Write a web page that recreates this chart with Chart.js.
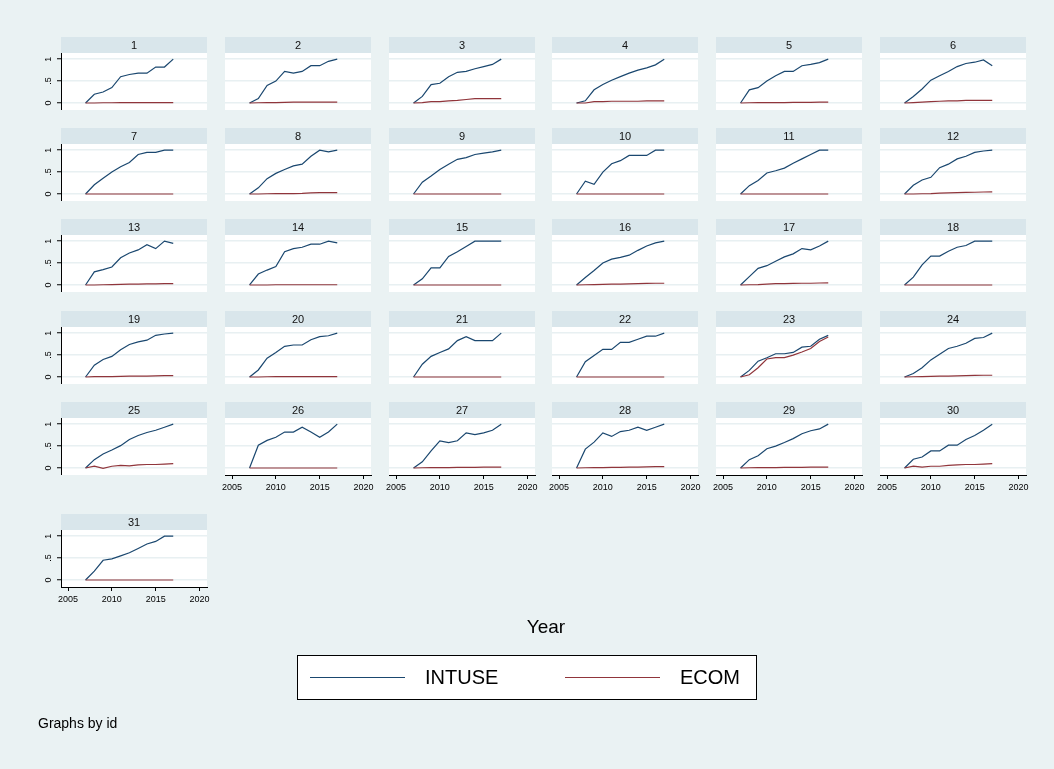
<!DOCTYPE html>
<html>
<head>
<meta charset="utf-8">
<script src="https://cdn.jsdelivr.net/npm/chart.js@4.4.1/dist/chart.umd.min.js"></script>
<style>
  html, body { margin: 0; padding: 0; background: #eaf2f3; }
  #stage { position: relative; width: 1054px; height: 769px; overflow: hidden; background: #eaf2f3; }
  #stage canvas { position: absolute; }
</style>
</head>
<body>
<div id="stage"></div>
<script>
// ---- data -------------------------------------------------------------
const YEARS = [2007, 2008, 2009, 2010, 2011, 2012, 2013, 2014, 2015, 2016, 2017];
const IDS = [1, 2, 3, 4, 5, 6, 7, 8, 9, 10, 11, 12, 13, 14, 15, 16, 17, 18, 19, 20,
             21, 22, 23, 24, 25, 26, 27, 28, 29, 30, 31];

// share of internet use, one row per id (2007..2017)
const INTUSE = [
  [0, .20, .25, .35, .60, .65, .68, .68, .82, .82, 1],
  [0, .10, .40, .50, .72, .68, .72, .85, .85, .95, 1],
  [0, .15, .42, .45, .60, .70, .72, .78, .83, .88, 1],
  [0, .05, .30, .42, .52, .60, .68, .75, .80, .87, 1],
  [0, .30, .35, .50, .62, .72, .72, .85, .88, .92, 1],
  [0, .15, .32, .52, .62, .72, .83, .90, .93, .98, .85],
  [0, .21, .36, .50, .62, .72, .90, .95, .95, 1, 1],
  [0, .14, .35, .47, .56, .64, .68, .86, 1, .96, 1],
  [0, .27, .41, .56, .68, .79, .83, .90, .93, .96, 1],
  [0, .29, .22, .50, .69, .76, .88, .88, .88, 1, 1],
  [0, .19, .31, .48, .53, .59, .70, .80, .90, 1, 1],
  [0, .20, .32, .38, .60, .68, .80, .86, .95, .98, 1],
  [0, .30, .35, .41, .62, .73, .80, .92, .83, 1, .95],
  [0, .25, .34, .42, .76, .83, .86, .93, .93, 1, .96],
  [0, .14, .39, .39, .65, .76, .88, 1, 1, 1, 1],
  [0, .17, .33, .50, .59, .63, .68, .79, .89, .96, 1],
  [0, .19, .38, .44, .54, .64, .71, .83, .80, .89, 1],
  [0, .18, .46, .66, .66, .77, .86, .90, 1, 1, 1],
  [0, .27, .40, .47, .62, .74, .80, .84, .95, .98, 1],
  [0, .16, .43, .56, .70, .73, .73, .85, .92, .94, 1],
  [0, .29, .47, .56, .64, .83, .92, .83, .83, .83, 1],
  [0, .35, .49, .63, .63, .79, .79, .86, .93, .93, 1],
  [0, .15, .36, .44, .53, .53, .56, .68, .70, .86, .95],
  [0, .08, .21, .39, .52, .65, .70, .77, .88, .90, 1],
  [0, .19, .32, .41, .51, .65, .74, .81, .86, .93, 1],
  [0, .52, .63, .70, .82, .82, .93, .82, .70, .82, 1],
  [0, .14, .39, .62, .58, .62, .80, .76, .80, .86, 1],
  [0, .43, .59, .80, .72, .83, .86, .93, .86, .93, 1],
  [0, .19, .28, .44, .50, .58, .67, .78, .85, .89, 1],
  [0, .20, .25, .39, .39, .52, .52, .65, .74, .86, 1],
  [0, .20, .45, .48, .55, .62, .72, .82, .88, 1, 1]
];

// share of e-commerce, one row per id (2007..2017)
const ECOM = [
  [0, 0, .005, .005, .01, .01, .01, .01, .01, .01, .01],
  [0, .005, .01, .01, .015, .02, .02, .02, .02, .02, .02],
  [0, .01, .03, .03, .05, .06, .08, .10, .10, .10, .10],
  [0, 0, .03, .03, .04, .04, .04, .04, .05, .05, .05],
  [0, .005, .01, .01, .01, .01, .015, .015, .015, .02, .02],
  [0, .01, .02, .03, .04, .05, .05, .06, .06, .06, .06],
  [0, 0, 0, 0, 0, 0, 0, 0, 0, 0, 0],
  [0, 0, .005, .01, .01, .01, .015, .025, .03, .03, .03],
  [0, 0, 0, 0, 0, 0, 0, 0, 0, 0, 0],
  [0, 0, 0, 0, 0, 0, 0, 0, 0, 0, 0],
  [0, 0, 0, 0, 0, 0, 0, 0, 0, 0, 0],
  [0, 0, .005, .01, .02, .025, .03, .035, .04, .045, .05],
  [0, 0, .005, .01, .015, .02, .02, .025, .025, .03, .03],
  [0, 0, 0, .005, .005, .005, .005, .005, .005, .005, .005],
  [0, 0, 0, 0, 0, 0, 0, 0, 0, 0, 0],
  [0, .005, .01, .015, .02, .02, .025, .03, .035, .04, .04],
  [0, .005, .01, .02, .03, .03, .035, .04, .04, .045, .05],
  [0, 0, 0, 0, 0, 0, 0, 0, 0, 0, 0],
  [0, .01, .01, .01, .015, .02, .02, .02, .025, .03, .03],
  [0, 0, .005, .01, .01, .01, .01, .01, .01, .01, .01],
  [0, 0, 0, 0, 0, 0, 0, 0, 0, 0, 0],
  [0, 0, 0, 0, 0, 0, 0, 0, 0, 0, 0],
  [0, .05, .21, .41, .44, .44, .50, .57, .65, .81, .91],
  [0, .005, .01, .015, .02, .02, .025, .03, .035, .04, .04],
  [0, .04, -.01, .04, .06, .05, .07, .08, .08, .09, .10],
  [0, 0, 0, 0, 0, 0, 0, 0, 0, 0, 0],
  [0, .005, .01, .01, .01, .015, .015, .015, .02, .02, .02],
  [0, .005, .01, .01, .015, .015, .02, .02, .025, .03, .03],
  [0, .005, .01, .01, .01, .015, .015, .015, .02, .02, .02],
  [0, .04, .02, .04, .04, .06, .07, .08, .08, .09, .10],
  [0, 0, 0, 0, 0, 0, 0, 0, 0, 0, 0]
];

const Y_TICKS = [0, 0.5, 1];
const X_TICKS = [2005, 2010, 2015, 2020];
const SERIES_NAMES = ['INTUSE', 'ECOM'];
const SERIES_COLORS = ['#1a476f', '#90353b'];
const X_TITLE = 'Year';
const NOTE = 'Graphs by id';

// ---- layout -----------------------------------------------------------
const NCOL = 6;
const COL_X = 60.7, COL_STEP = 163.9;
const ROW_TOP = [37, 128.2, 219.4, 310.6, 401.8, 514];
const PLOT_W = 146, STRIP_H = 16, PLOT_H = 57;
const YAXIS_W = 34, RIGHT_PAD = 14, XAXIS_H = 24;
const FONT = '"Liberation Sans", Arial, Helvetica, sans-serif';
const stage = document.getElementById('stage');

// white plot region plus the id strip above it
const panelDecor = {
  id: 'panelDecor',
  beforeDraw(chart, args, opts) {
    const { ctx, chartArea: a } = chart;
    ctx.save();
    ctx.fillStyle = '#ffffff';
    ctx.fillRect(a.left, a.top, a.right - a.left, a.bottom - a.top);
    ctx.fillStyle = '#d9e6eb';
    ctx.fillRect(a.left, a.top - STRIP_H, a.right - a.left, STRIP_H);
    ctx.fillStyle = '#111111';
    ctx.font = '11px ' + FONT;
    ctx.textAlign = 'center';
    ctx.textBaseline = 'middle';
    ctx.fillText(opts.text, (a.left + a.right) / 2, a.top - STRIP_H / 2 + 0.5);
    ctx.restore();
  }
};

function fmtY(v) {
  if (v === 0) return '0';
  if (v === 1) return '1';
  return String(v).replace(/^0/, '');
}

IDS.forEach((id, i) => {
  const row = Math.floor(i / NCOL), col = i % NCOL;
  const hasY = col === 0;
  const hasX = i + NCOL >= IDS.length;
  const w = YAXIS_W + PLOT_W + RIGHT_PAD;
  const h = STRIP_H + PLOT_H + (hasX ? XAXIS_H : 0);
  const cv = document.createElement('canvas');
  cv.width = Math.round(w); cv.height = Math.round(h);
  cv.style.left = (COL_X + COL_STEP * col - YAXIS_W) + 'px';
  cv.style.top = ROW_TOP[row] + 'px';
  cv.style.width = cv.width + 'px'; cv.style.height = cv.height + 'px';
  stage.appendChild(cv);

  new Chart(cv, {
    type: 'line',
    data: {
      datasets: SERIES_NAMES.map((name, s) => ({
        label: name,
        data: YEARS.map((yr, k) => ({ x: yr, y: (s === 0 ? INTUSE : ECOM)[i][k] })),
        borderColor: SERIES_COLORS[s],
        backgroundColor: SERIES_COLORS[s],
        borderWidth: 1.2,
        pointRadius: 0,
        tension: 0,
        fill: false,
        order: 1 - s
      }))
    },
    options: {
      responsive: false,
      animation: false,
      devicePixelRatio: 1,
      layout: { padding: { top: STRIP_H, right: RIGHT_PAD, left: 0, bottom: 0 } },
      plugins: {
        legend: { display: false },
        tooltip: { enabled: false },
        panelDecor: { text: String(id) }
      },
      scales: {
        x: {
          type: 'linear',
          min: 2004.2, max: 2020.85,
          display: hasX,
          afterBuildTicks: s => { s.ticks = X_TICKS.map(v => ({ value: v })); },
          afterFit: s => {
            s.height = hasX ? XAXIS_H : 0;
            s.paddingLeft = 0; s.paddingRight = 0;
          },
          ticks: {
            font: { family: FONT, size: 9 }, color: '#000', padding: 3,
            maxRotation: 0, minRotation: 0, callback: v => String(v)
          },
          grid: { drawOnChartArea: false, drawTicks: true, tickLength: 4, tickColor: '#000', lineWidth: 1 },
          border: { display: true, color: '#000', width: 1 }
        },
        y: {
          type: 'linear',
          min: -0.16, max: 1.14,
          afterBuildTicks: s => { s.ticks = Y_TICKS.map(v => ({ value: v })); },
          afterFit: s => {
            s.width = YAXIS_W;
            s.paddingTop = 0; s.paddingBottom = 0;
          },
          ticks: {
            display: hasY,
            font: { family: FONT, size: 9 }, color: '#000', padding: 5,
            minRotation: 90, maxRotation: 90, crossAlign: 'center',
            callback: v => fmtY(v)
          },
          grid: {
            color: '#e8f0f2', lineWidth: 1.5,
            drawTicks: hasY, tickLength: 4, tickColor: '#000', tickWidth: 1
          },
          border: { display: hasY, color: '#000', width: 1 }
        }
      }
    },
    plugins: [panelDecor]
  });
});

// ---- shared axis title, key and note ------------------------------------
const FOOT_TOP = 605, FOOT_H = 769 - FOOT_TOP;
const keyBox = {
  id: 'keyBox',
  afterDraw(chart) {
    const ctx = chart.ctx;
    const bx = 297, by = 655 - FOOT_TOP, bw = 460, bh = 45;
    const midY = by + bh / 2;
    ctx.save();
    ctx.fillStyle = '#ffffff';
    ctx.fillRect(bx, by, bw, bh);
    ctx.strokeStyle = '#000';
    ctx.lineWidth = 1;
    ctx.strokeRect(bx + 0.5, by + 0.5, bw - 1, bh - 1);
    const starts = [310, 565];
    chart.data.datasets.forEach((ds, s) => {
      ctx.strokeStyle = ds.borderColor;
      ctx.lineWidth = 1.2;
      ctx.beginPath();
      ctx.moveTo(starts[s], midY);
      ctx.lineTo(starts[s] + 95, midY);
      ctx.stroke();
      ctx.fillStyle = '#000';
      ctx.font = '20px ' + FONT;
      ctx.textAlign = 'left';
      ctx.textBaseline = 'middle';
      ctx.fillText(ds.label, starts[s] + 115, midY + 1);
    });
    ctx.restore();
  }
};

const fcv = document.createElement('canvas');
fcv.width = 1054; fcv.height = FOOT_H;
fcv.style.left = '0px'; fcv.style.top = FOOT_TOP + 'px';
fcv.style.width = '1054px'; fcv.style.height = FOOT_H + 'px';
stage.insertBefore(fcv, stage.firstChild);

new Chart(fcv, {
  type: 'line',
  data: {
    datasets: SERIES_NAMES.map((name, s) => ({
      label: name, data: [], borderColor: SERIES_COLORS[s], backgroundColor: SERIES_COLORS[s]
    }))
  },
  options: {
    responsive: false,
    animation: false,
    devicePixelRatio: 1,
    layout: { padding: { left: 38, right: 0 } },
    scales: { x: { display: false }, y: { display: false } },
    plugins: {
      legend: { display: false },
      tooltip: { enabled: false },
      title: {
        display: true, text: X_TITLE, color: '#000',
        font: { family: FONT, size: 19, weight: 'normal' },
        padding: { top: 11.6, bottom: 0 }
      },
      subtitle: {
        display: true, text: NOTE, position: 'bottom', align: 'start', color: '#000',
        font: { family: FONT, size: 14, weight: 'normal' },
        padding: { top: 0, bottom: 36.6 }
      }
    }
  },
  plugins: [keyBox]
});
</script>
</body>
</html>
